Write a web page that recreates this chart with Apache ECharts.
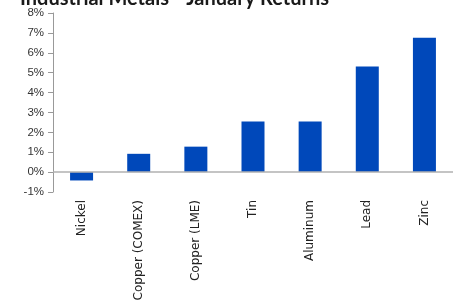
<!DOCTYPE html>
<html>
<head>
<meta charset="utf-8">
<script src="https://cdn.jsdelivr.net/npm/echarts@6/dist/echarts.min.js"></script>
<style>
  html, body { margin: 0; padding: 0; background: #fff; }
  #chart { width: 455px; height: 305px; }
</style>
</head>
<body>
<div id="chart"></div>
<script>
// metals and their January returns (%)
let metals = ["Nickel", "Copper (COMEX)", "Copper (LME)", "Tin", "Aluminum", "Lead", "Zinc"];
let returns = [-0.42, 0.92, 1.28, 2.55, 2.55, 5.31, 6.75];
let yTicks = [-1, 0, 1, 2, 3, 4, 5, 6, 7, 8];

let chart = echarts.init(document.getElementById('chart'));

let option = {
    animation: false,
    title: {
        text: 'Industrial Metals - January Returns',
        left: 15,
        top: -16,
        textStyle: {
            fontFamily: 'Lato',
            fontWeight: 'bold',
            fontSize: 20,
            color: '#1a1a1a'
        }
    },
    grid: { left: 53, right: 2, top: 13, bottom: 113 },
    xAxis: {
        type: 'category',
        data: metals,
        axisLine: { show: false, onZero: false },
        axisTick: { show: false },
        axisLabel: {
            rotate: 90,
            margin: 8,
            fontFamily: 'DejaVu Sans',
            fontSize: 12,
            color: '#222'
        }
    },
    yAxis: {
        type: 'value',
        min: yTicks[0],
        max: yTicks[yTicks.length - 1],
        interval: 1,
        axisLine: { show: true, lineStyle: { color: '#999', width: 1 } },
        axisTick: { show: true, length: 5, lineStyle: { color: '#999' } },
        splitLine: { show: false },
        axisLabel: {
            formatter: v => v + '%',
            margin: 9,
            fontFamily: 'Liberation Sans',
            fontSize: 11.5,
            color: '#333'
        }
    },
    series: [{
        type: 'bar',
        data: returns,
        barWidth: 23,
        itemStyle: { color: '#0048BA' },
        markLine: {
            silent: true,
            symbol: 'none',
            label: { show: false },
            lineStyle: { color: '#b0b0b0', width: 1.5, type: 'solid' },
            data: [{ yAxis: 0 }]
        }
    }]
};

chart.setOption(option);
</script>
</body>
</html>
